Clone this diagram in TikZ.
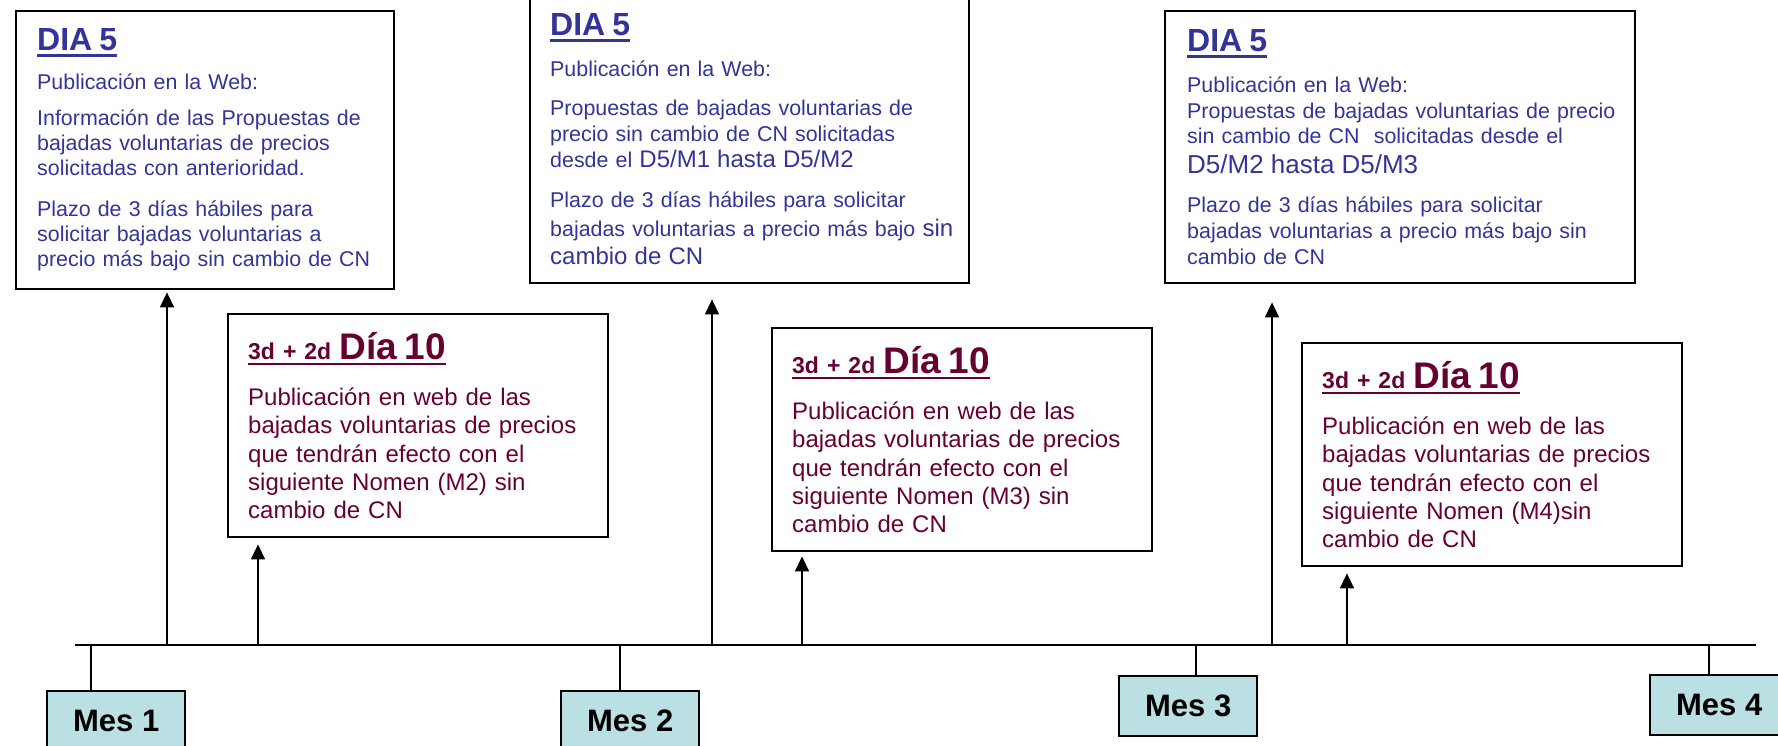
\documentclass[tikz,border=0pt]{standalone}
\usepackage{fontspec}
\setmainfont{Liberation Sans}
\usetikzlibrary{arrows.meta}
\definecolor{diablue}{RGB}{51,51,153}
\definecolor{diared}{RGB}{102,0,51}
\definecolor{mesfill}{RGB}{187,224,227}
\newcommand{\undertitle}[1]{\sbox0{#1}\rlap{\rule[-3pt]{\wd0}{1.4pt}}\usebox0}
\newcommand{\diatitle}{\fontsize{16pt}{19pt}\selectfont\bfseries}
\newcommand{\bigtxt}{\fontsize{12pt}{13pt}\selectfont}
\tikzstyle{diabox} = [
	rectangle,
	draw=black,
	line width=1.2pt,
	anchor=north west,
	align=left,
	text=diablue,
	inner xsep=10.5pt,
	font=\fontsize{10.7pt}{12.5pt}\selectfont
]
\tikzstyle{nomenbox} = [
	rectangle,
	draw=black,
	line width=1.2pt,
	anchor=north west,
	align=left,
	text=diared,
	text width=170pt,
	inner xsep=10pt,
	minimum height=111.5pt,
	font=\fontsize{12pt}{14.2pt}\selectfont
]
\tikzstyle{mesbox} = [
	rectangle,
	draw=black,
	line width=1.2pt,
	fill=mesfill,
	anchor=north west,
	minimum width=69pt,
	minimum height=30pt,
	font=\fontsize{15.5pt}{18pt}\selectfont\bfseries
]
\tikzstyle{arrow} = [line width=0.8pt, -{Triangle[length=7.5pt,width=7pt]}]
\tikzstyle{tick} = [line width=0.7pt]
\newcommand{\nomentitle}[1]{\undertitle{{\fontsize{11.5pt}{14pt}\selectfont\bfseries 3d + 2d} {\fontsize{18.5pt}{22pt}\selectfont\bfseries D\'{\i}a #1}}}

\begin{document}
\begin{tikzpicture}[x=0.5pt, y=-0.5pt]
    \useasboundingbox (0,0) rectangle (1778,745);
    % DIA 5 boxes
    \node (dia1) [diabox, text width=168pt, minimum height=139pt] at (15,10) {%
        {\diatitle\undertitle{DIA 5}}\par\vspace{7pt}
        Publicación en la Web:\par\vspace{5.5pt}
        Información de las Propuestas de\\ bajadas voluntarias de precios\\ solicitadas con anterioridad.\par\vspace{8pt}
        Plazo de 3 días hábiles para\\ solicitar bajadas voluntarias a\\ precio más bajo sin cambio de CN};
    \node (dia2) [diabox, inner xsep=10pt, text width=199.5pt, minimum height=144pt,
        font=\fontsize{10.7pt}{13pt}\selectfont] at (529,-6) {%
        {\diatitle\undertitle{DIA 5}}\par\vspace{7.5pt}
        Publicación en la Web:\par\vspace{6.5pt}
        Propuestas de bajadas voluntarias de\\ precio sin cambio de CN solicitadas\\ desde el {\bigtxt D5/M1 hasta D5/M2}\par\vspace{5.75pt}
        {\fontsize{10.7pt}{14.25pt}\selectfont Plazo de 3 días hábiles para solicitar\\ \mbox{bajadas voluntarias a precio más bajo {\bigtxt sin}}\\ {\bigtxt cambio de CN}\par}};
    \node (dia3) [diabox, inner xsep=11pt, text width=213pt, minimum height=136pt,
        font=\fontsize{10.7pt}{12.75pt}\selectfont] at (1164,10) {%
        {\diatitle\undertitle{DIA 5}}\par\vspace{7.75pt}
        Publicación en la Web:\\ \mbox{Propuestas de bajadas voluntarias de precio}\\ sin cambio de CN\ \ solicitadas desde el\\[2.25pt] {\fontsize{13pt}{15pt}\selectfont D5/M2 hasta D5/M3}\par\vspace{6.5pt}
        {\fontsize{10.7pt}{13pt}\selectfont Plazo de 3 días hábiles para solicitar\\ bajadas voluntarias a precio más bajo sin\\ cambio de CN\par}};
    % Dia 10 boxes
    \node (nom1) [nomenbox] at (227,313) {%
        \nomentitle{10}\par\vspace{8.8pt}
        Publicación en web de las\\ bajadas voluntarias de precios\\ que tendrán efecto con el\\ siguiente Nomen (M2) sin\\ cambio de CN};
    \node (nom2) [nomenbox] at (771,327) {%
        \nomentitle{10}\par\vspace{8.8pt}
        Publicación en web de las\\ bajadas voluntarias de precios\\ que tendrán efecto con el\\ siguiente Nomen (M3) sin\\ cambio de CN};
    \node (nom3) [nomenbox] at (1301,342) {%
        \nomentitle{10}\par\vspace{8.8pt}
        Publicación en web de las\\ bajadas voluntarias de precios\\ que tendrán efecto con el\\ siguiente Nomen (M4)sin\\ cambio de CN};
    % months
    \node (mes1) [mesbox] at (46,690) {Mes 1};
    \node (mes2) [mesbox] at (560,690) {Mes 2};
    \node (mes3) [mesbox] at (1118,675) {Mes 3};
    \node (mes4) [mesbox] at (1649,674) {Mes 4};
    % time line
    \coordinate (tl0) at (75,645);
    \coordinate (tl9) at (1756,645);
    \draw [line width=1pt] (tl0) -- (tl9);
    \foreach \k/\m in {91/mes1, 620/mes2, 1196/mes3, 1709/mes4}
        \draw [tick] (\k,645) -- (\k,645 |- \m.north);
    \coordinate (a1) at (167,645);
    \coordinate (a2) at (258,645);
    \coordinate (a3) at (712,645);
    \coordinate (a4) at (802,645);
    \coordinate (a5) at (1272,645);
    \coordinate (a6) at (1347,645);
    \draw [arrow, shorten >=1pt] (a1) -- (a1 |- dia1.south);
    \draw [arrow, shorten >=3pt] (a2) -- (a2 |- nom1.south);
    \draw [arrow, shorten >=7.5pt] (a3) -- (a3 |- dia2.south);
    \draw [arrow, shorten >=2pt] (a4) -- (a4 |- nom2.south);
    \draw [arrow, shorten >=9pt] (a5) -- (a5 |- dia3.south);
    \draw [arrow, shorten >=3pt] (a6) -- (a6 |- nom3.south);
\end{tikzpicture}
\end{document}
